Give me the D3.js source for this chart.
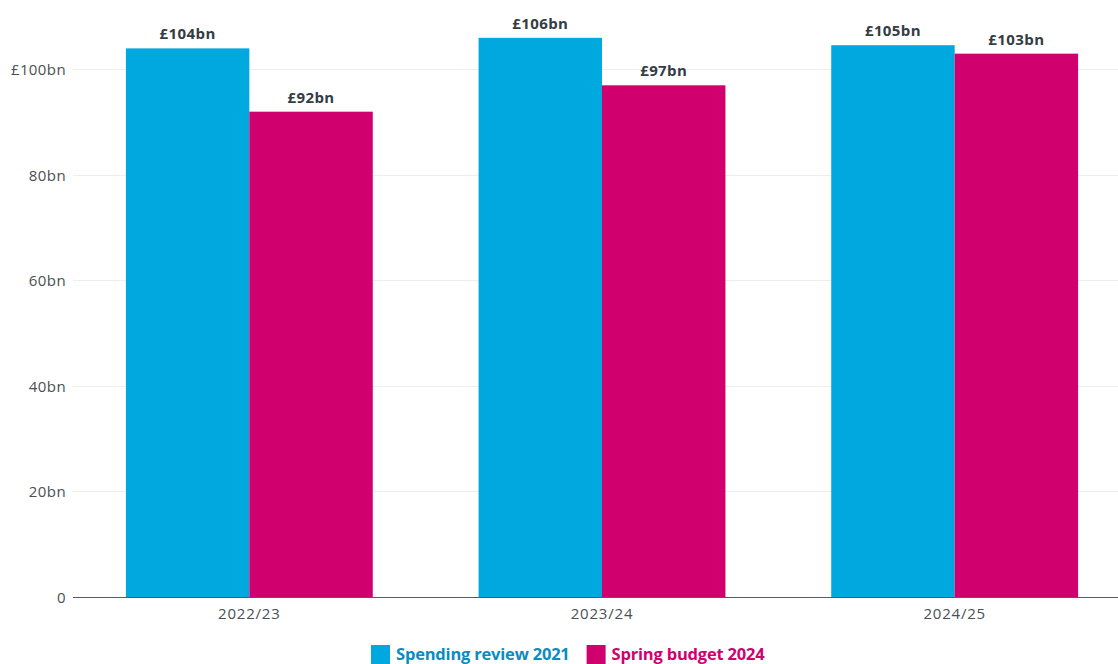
<!DOCTYPE html>
<html>
<head>
<meta charset="utf-8">
<script src="https://cdn.jsdelivr.net/npm/d3@7"></script>
<style>
  html, body { margin: 0; padding: 0; background: #fff; }
  svg { display: block; font-family: "Open Sans", "Noto Sans", sans-serif; }
</style>
</head>
<body>
<svg id="chart" width="1118" height="664"></svg>
<script>
// Financial years shown on the x axis
const years = ["2022/23", "2023/24", "2024/25"];
// Planned spending (£bn) under each fiscal event
const spendingReview2021 = [104, 106, 104.6];
const springBudget2024 = [92, 97, 103];
const seriesNames = ["Spending review 2021", "Spring budget 2024"];
const seriesColors = ["#00a8e0", "#d1006f"];
const legendTextColors = ["#0a8cbf", "#d1006f"];
const valueLabels = [["£104bn", "£106bn", "£105bn"], ["£92bn", "£97bn", "£103bn"]];
const yTicks = [0, 20, 40, 60, 80, 100];
const yTickLabels = ["0", "20bn", "40bn", "60bn", "80bn", "£100bn"];

const svg = d3.select("#chart");
const W = 1118;
const plotLeft = 73, plotRight = 1131, plotTop = 0, plotBottom = 597;

const y = d3.scaleLinear().domain([0, 113.17]).range([plotBottom, plotTop]);
const x0 = d3.scaleBand().domain(years).range([plotLeft, plotRight]).paddingInner(0.3).paddingOuter(0.15);
const x1 = d3.scaleBand().domain([0, 1]).range([0, x0.bandwidth()]);

// Horizontal gridlines
svg.append("g").selectAll("line").data(yTicks.filter(d => d > 0)).join("line")
  .attr("x1", plotLeft).attr("x2", W)
  .attr("y1", d => Math.round(y(d)) + 0.5).attr("y2", d => Math.round(y(d)) + 0.5)
  .attr("stroke", "#eeeeee").attr("stroke-width", 1);

// Y axis labels
const yAxis = d3.axisLeft(y).tickValues(yTicks).tickSize(0).tickPadding(0)
  .tickFormat((d, i) => yTickLabels[i]);
const gy = svg.append("g").attr("transform", `translate(66,0)`).call(yAxis);
gy.select(".domain").remove();
gy.selectAll("text").attr("font-size", 15).attr("fill", "#4a4f55")
  .attr("font-family", "\"Open Sans\", sans-serif").attr("letter-spacing", "0.4")
  .attr("dy", "0.34em");

// Bars
const series = [spendingReview2021, springBudget2024];
series.forEach((vals, s) => {
  svg.append("g").selectAll("rect").data(vals).join("rect")
    .attr("x", (d, i) => x0(years[i]) + x1(s))
    .attr("y", d => y(d))
    .attr("width", x1.bandwidth())
    .attr("height", d => plotBottom - y(d))
    .attr("fill", seriesColors[s]);
  svg.append("g").selectAll("text").data(vals).join("text")
    .attr("x", (d, i) => x0(years[i]) + x1(s) + x1.bandwidth() / 2)
    .attr("y", d => y(d) - 9)
    .attr("text-anchor", "middle")
    .attr("font-size", 15).attr("font-weight", 700).attr("fill", "#343c45")
    .attr("letter-spacing", "0.4")
    .text((d, i) => valueLabels[s][i]);
});

// X axis
const xAxis = d3.axisBottom(x0).tickSize(0).tickPadding(11);
const gx = svg.append("g").attr("transform", `translate(0,${plotBottom})`).call(xAxis);
gx.select(".domain").remove();
gx.selectAll("text").attr("font-size", 15).attr("fill", "#4a4f55")
  .attr("font-family", "\"Open Sans\", sans-serif").attr("letter-spacing", "0.8");
svg.append("line").attr("x1", plotLeft).attr("x2", W)
  .attr("y1", plotBottom + 0.5).attr("y2", plotBottom + 0.5)
  .attr("stroke", "#555b62").attr("stroke-width", 1.2);

// Legend
const legend = svg.append("g").attr("transform", "translate(371,645)");
let lx = 0;
seriesNames.forEach((name, i) => {
  const g = legend.append("g").attr("transform", `translate(${lx},0)`);
  g.append("rect").attr("width", 19).attr("height", 19).attr("fill", seriesColors[i]);
  const t = g.append("text").attr("x", 25).attr("y", 15)
    .attr("font-size", 16.5).attr("font-weight", 700).attr("fill", legendTextColors[i])
    .attr("font-family", "\"Open Sans\", sans-serif").attr("letter-spacing", "-0.2")
    .text(name);
  lx += 25 + t.node().getComputedTextLength() + 17;
});
</script>
</body>
</html>
